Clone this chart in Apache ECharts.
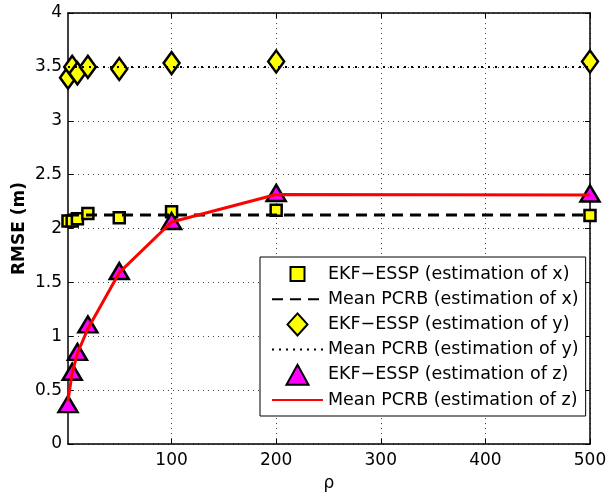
<!DOCTYPE html>
<html><head><meta charset="utf-8">
<script src="https://cdn.jsdelivr.net/npm/echarts@6/dist/echarts.min.js"></script>
<style>html,body{margin:0;padding:0;background:#fff}#c{width:607px;height:496px}</style>
</head><body><div id="c"></div>
<script>
// ---- data ----
const rho = [1, 5, 10, 20, 50, 100, 200, 500];
const ekfX = [2.07, 2.07, 2.09, 2.14, 2.10, 2.155, 2.17, 2.12];
const pcrbX = [2.125, 2.125, 2.125, 2.125, 2.125, 2.125, 2.125, 2.125];
const ekfY = [3.40, 3.50, 3.44, 3.50, 3.48, 3.535, 3.55, 3.55];
const pcrbY = [3.5, 3.5, 3.5, 3.5, 3.5, 3.5, 3.5, 3.5];
const ekfZ = [0.37, 0.67, 0.855, 1.11, 1.605, 2.07, 2.33, 2.325];
const pcrbZ = [0.40, 0.66, 0.84, 1.07, 1.59, 2.06, 2.315, 2.31];
const xTicks = [100, 200, 300, 400, 500];
const seriesNames = [
  'EKF\u2212ESSP (estimation of x)',
  'Mean PCRB (estimation of x)',
  'EKF\u2212ESSP (estimation of y)',
  'Mean PCRB (estimation of y)',
  'EKF\u2212ESSP (estimation of z)',
  'Mean PCRB (estimation of z)'
];
const xName = '\u03C1';
const yName = 'RMSE (m)';

const pair = (ys) => rho.map((r, i) => [r, ys[i]]);
const FONT = 'DejaVu Sans';

// marker shapes (a padded 22x22 box so legend icons keep their own sizes)
const SQUARE = 'path://M0 0M22 22M4 4L18 4L18 18L4 18Z';
const DIAMOND = 'path://M10 0L20 11L10 22L0 11Z';
const TRIANGLE = 'path://M0 0M22 22M11 1L22 21L0 21Z';

const chart = echarts.init(document.getElementById('c'), null, {renderer: 'canvas'});
const axisLine = {show: true, onZero: false, lineStyle: {color: '#000', width: 1.5}};
const tick = (vals) => {
  const t = {show: true, inside: true, length: 5, lineStyle: {color: '#000', width: 1}};
  if (vals) t.customValues = vals;
  return t;
};
const grid = {show: true, lineStyle: {color: '#444', width: 1, type: [1, 4]}};

chart.setOption({
  animation: false,
  backgroundColor: '#fff',
  grid: {left: 68, right: 17, top: 13, bottom: 52, containLabel: false, outerBoundsMode: 'none'},
  legend: {
    orient: 'vertical',
    left: 260, top: 257,
    padding: [5, 7, 6, 11],
    itemWidth: 51, itemHeight: 22, itemGap: 3.2,
    symbolKeepAspect: true,
    backgroundColor: '#fff', borderColor: '#000', borderWidth: 1,
    textStyle: {fontFamily: FONT, fontSize: 17.5, color: '#000', lineHeight: 20},
    data: seriesNames
  },
  xAxis: [{
    type: 'value', min: 1, max: 500, position: 'bottom',
    axisLine: axisLine, axisTick: tick(xTicks),
    axisLabel: {customValues: xTicks, color: '#000', fontFamily: FONT, fontSize: 17, margin: 8},
    splitLine: grid,
    name: xName, nameLocation: 'middle', nameGap: 31, nameMoveOverlap: false,
    nameTextStyle: {fontFamily: FONT, fontSize: 17, color: '#000'}
  }, {
    type: 'value', min: 1, max: 500, position: 'top',
    axisLine: axisLine, axisTick: tick(xTicks),
    axisLabel: {show: false}, splitLine: {show: false}
  }],
  yAxis: [{
    type: 'value', min: 0, max: 4, interval: 0.5, position: 'left',
    axisLine: axisLine, axisTick: tick(),
    axisLabel: {color: '#000', fontFamily: FONT, fontSize: 17, margin: 6},
    splitLine: grid,
    name: yName, nameLocation: 'middle', nameGap: 40, nameMoveOverlap: false,
    nameTextStyle: {fontFamily: FONT, fontSize: 17, fontWeight: 'bold', color: '#000'}
  }, {
    type: 'value', min: 0, max: 4, interval: 0.5, position: 'right',
    axisLine: axisLine, axisTick: tick(),
    axisLabel: {show: false}, splitLine: {show: false}
  }],
  series: [
    {
      name: seriesNames[0], type: 'scatter', data: pair(ekfX),
      symbol: SQUARE, symbolSize: 17.3,
      itemStyle: {color: '#ffff00', borderColor: '#000', borderWidth: 2.5, opacity: 1}
    },
    {
      name: seriesNames[1], type: 'line', data: pair(pcrbX), symbol: 'none',
      lineStyle: {color: '#000', width: 3, type: [11, 7]},
      itemStyle: {color: '#000', opacity: 0}
    },
    {
      name: seriesNames[2], type: 'scatter', data: pair(ekfY),
      symbol: DIAMOND, symbolSize: [16, 22],
      itemStyle: {color: '#ffff00', borderColor: '#000', borderWidth: 2.5, opacity: 1}
    },
    {
      name: seriesNames[3], type: 'line', data: pair(pcrbY), symbol: 'none',
      lineStyle: {color: '#000', width: 2, type: [2, 5]},
      itemStyle: {color: '#000', opacity: 0}
    },
    {
      name: seriesNames[4], type: 'scatter', data: pair(ekfZ),
      symbol: TRIANGLE, symbolSize: [19, 17.6],
      itemStyle: {color: '#ff00ff', borderColor: '#000', borderWidth: 2.5, opacity: 1}
    },
    {
      name: seriesNames[5], type: 'line', data: pair(pcrbZ), symbol: 'none',
      lineStyle: {color: '#ff0000', width: 3},
      itemStyle: {color: '#ff0000', opacity: 0}
    }
  ]
});
</script>
</body></html>
